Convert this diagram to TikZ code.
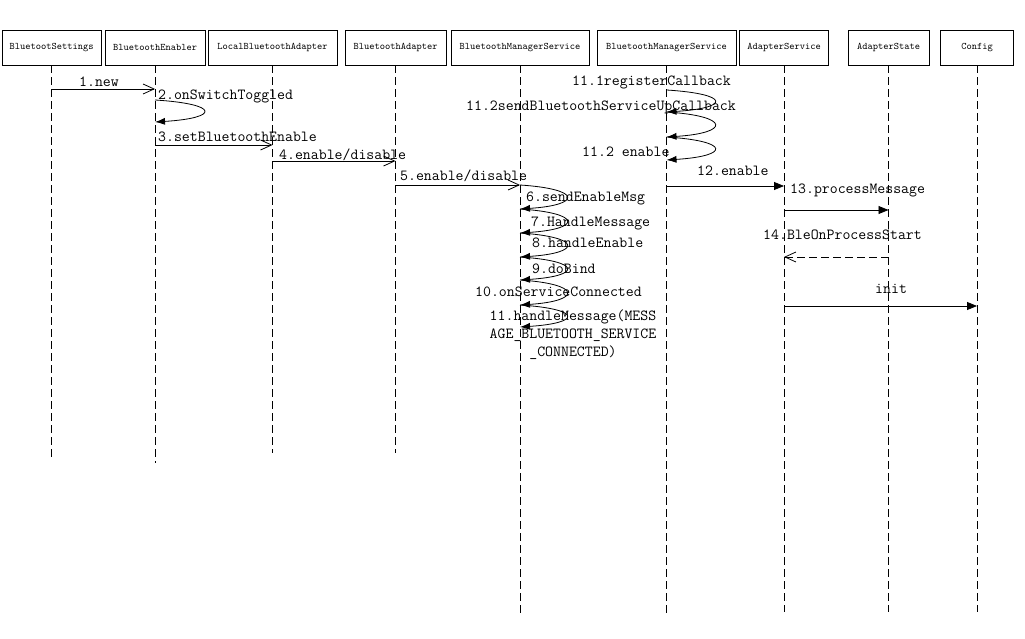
\documentclass[tikz,border=0pt]{standalone}
\usetikzlibrary{arrows.meta,positioning}
\tikzset{
  object/.style={draw, line width=0.8pt, minimum height=35pt, inner sep=0pt,
    font=\fontsize{10}{12}\selectfont\ttfamily},
  lifeline/.style={line width=0.8pt, dash pattern=on 8pt off 4pt},
  msg/.style={anchor=west, inner sep=0pt, font=\fontsize{15.4}{18}\selectfont\ttfamily},
  call/.style={line width=0.8pt, -{Straight Barb[length=11pt,width=10pt]}},
  sync/.style={line width=0.8pt, -{Triangle[length=10pt,width=8pt]}},
  selfcall/.style={line width=0.8pt, -{Latex[length=10pt,width=7pt]}},
  reply/.style={call, dash pattern=on 8pt off 4pt}
}
\begin{document}
\begin{tikzpicture}[x=1pt, y=-1pt]
  \fill [white] (0,0) rectangle (1025,639);
  \useasboundingbox (0,0) rectangle (1025,639);

  % objects
  \node [object, minimum width=99pt] (settings) at (51.5,47.5) {BluetootSettings};
  \node [object, minimum width=100pt] (enabler) at (155,47.5) {BluetoothEnabler};
  \node [object, minimum width=129pt] (local) at (272.5,47.5) {LocalBluetoothAdapter};
  \node [object, minimum width=101pt] (adapter) at (395.5,47.5) {BluetoothAdapter};
  \node [object, minimum width=138pt] (manager) at (520,47.5) {BluetoothManagerService};
  \node [object, minimum width=139pt] (manager2) at (666.5,47.5) {BluetoothManagerService};
  \node [object, minimum width=89pt] (service) at (784,47.5) {AdapterService};
  \node [object, minimum width=81pt] (state) at (888.5,47.5) {AdapterState};
  \node [object, minimum width=73pt] (config) at (977,47.5) {Config};

  % lifelines
  \foreach \obj/\len in {settings/392, enabler/398, local/388, adapter/388,
      manager/551, manager2/548, service/547, state/547, config/547}
    \draw [lifeline] (\obj.south) -- ++(0,\len);

  % enable chain
  \node [msg] (new lbl) at (79,82) {1.new};
  \draw [call] (settings.south |- 0,89) -- (enabler.south |- 0,89);
  \node [msg] (toggled lbl) at (158,96) {2.onSwitchToggled};
  \draw [selfcall]
    (enabler.south |- 0,100)
    .. controls +(65,4) and +(65,-4) .. (enabler.south |- 0,122)
  ;
  \node [msg] (set lbl) at (158,137) {3.setBluetoothEnable};
  \draw [call] (enabler.south |- 0,145) -- (local.south |- 0,145);
  \node [msg] (local lbl) at (279,155) {4.enable/disable};
  \draw [call] (local.south |- 0,161) -- (adapter.south |- 0,161);
  \node [msg] (adapter lbl) at (400,176) {5.enable/disable};
  \draw [call] (adapter.south |- 0,185) -- (manager.south |- 0,185);

  % calls inside BluetoothManagerService
  \foreach \from/\to in {185/209, 209/233, 233/257, 257/280, 280/305, 305/327}
    \draw [selfcall]
      (manager.south |- 0,\from)
      .. controls +(62,4) and +(62,-4) .. (manager.south |- 0,\to)
    ;
  \node [msg] (send lbl) at (526,198) {6.sendEnableMsg};
  \node [msg] (handle lbl) at (531,223) {7.HandleMessage};
  \node [msg] (handle enable lbl) at (532,243) {8.handleEnable};
  \node [msg] (bind lbl) at (532,269) {9.doBind};
  \node [msg] (connected lbl) at (475,292) {10.onServiceConnected};
  \node [msg, anchor=center, align=center] (connected msg lbl) at (573,335)
    {11.handleMessage(MESS\\AGE\_BLUETOOTH\_SERVICE\\\_CONNECTED)};

  % callbacks in the second BluetoothManagerService
  \foreach \from/\to in {90/112, 112/137, 137/160}
    \draw [selfcall]
      (manager2.south |- 0,\from)
      .. controls +(64,4) and +(64,-4) .. (manager2.south |- 0,\to)
    ;
  \node [msg] (register lbl) at (572,82) {11.1registerCallback};
  \node [msg] (up lbl) at (466,107) {11.2sendBluetoothServiceUpCallback};
  \node [msg] (enable lbl) at (582,152) {11.2 enable};

  % adapter service
  \node [msg] (service lbl) at (697,171) {12.enable};
  \draw [sync] (manager2.south |- 0,186) -- (service.south |- 0,186);
  \node [msg] (process lbl) at (790,190) {13.processMessage};
  \draw [sync] (service.south |- 0,210) -- (state.south |- 0,210);
  \node [msg] (start lbl) at (763,235) {14.BleOnProcessStart};
  \draw [reply] (state.south |- 0,257) -- (service.south |- 0,257);
  \node [msg] (init lbl) at (875,289) {init};
  \draw [sync] (service.south |- 0,306) -- (config.south |- 0,306);
\end{tikzpicture}
\end{document}
